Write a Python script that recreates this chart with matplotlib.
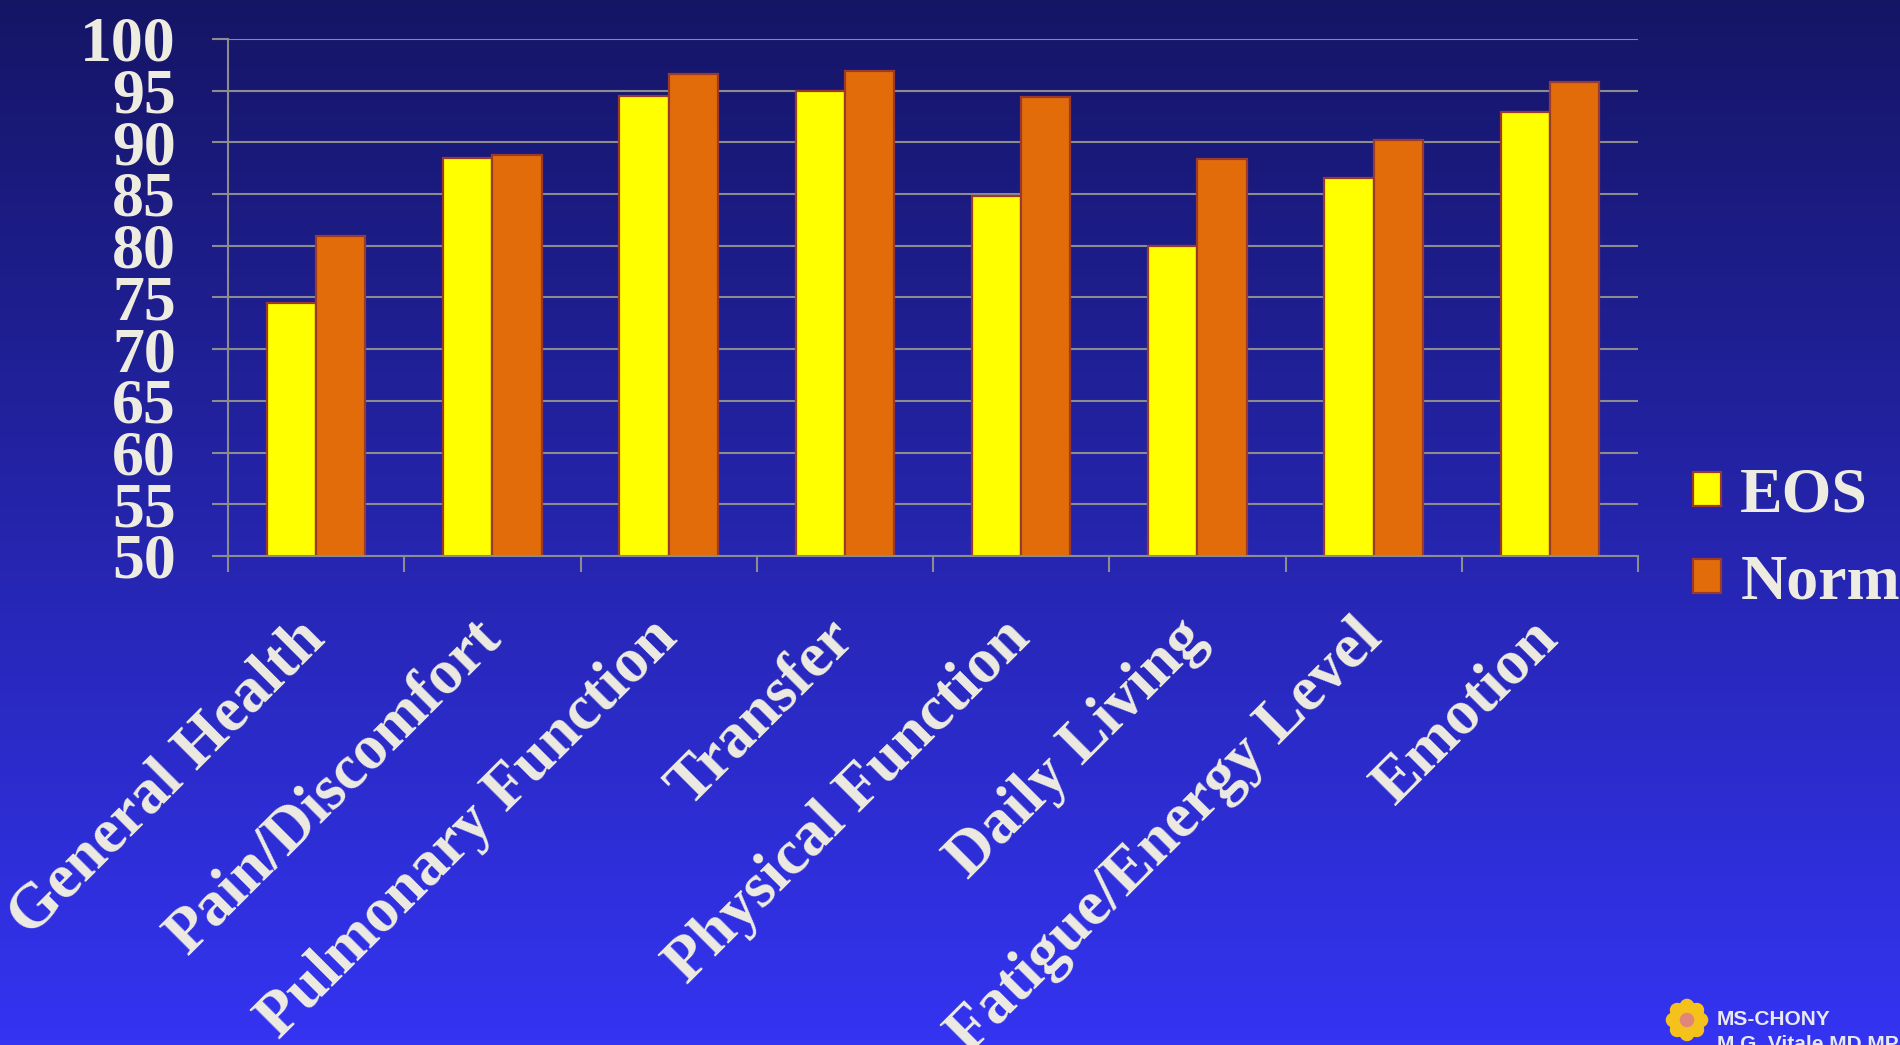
import numpy as np
import matplotlib
matplotlib.use("Agg")
import matplotlib.pyplot as plt

plt.rcParams["font.family"] = ["Liberation Serif", "DejaVu Serif"]
plt.rcParams["font.weight"] = "bold"

categories = ["General Health", "Pain/Discomfort", "Pulmonary Function", "Transfer",
              "Physical Function", "Daily Living", "Fatigue/Energy Level", "Emotion"]
eos = [74.5, 88.5, 94.5, 95.0, 84.8, 80.0, 86.5, 92.9]
norm = [80.9, 88.8, 96.6, 96.9, 94.4, 88.4, 90.2, 95.8]
yticks = list(range(50, 101, 5))

TXT = "#EEECE1"
GRID = "#8c8c8c"
EDGE = "#9a3a2c"

fig = plt.figure(figsize=(19, 10.45), dpi=100)

# background gradient (also used for the small logo, in figure fractions)
bg = fig.add_axes([0, 0, 1, 1], zorder=-10)
top = np.array([0x15, 0x15, 0x66]) / 255
bot = np.array([0x34, 0x34, 0xf2]) / 255
t = np.linspace(0, 1, 256)[:, None]
grad = (top * (1 - t) + bot * t)[:, None, :]
bg.imshow(grad, aspect="auto", extent=[0, 1, 0, 1])
bg.set_xlim(0, 1)
bg.set_ylim(0, 1)
bg.axis("off")

ax = fig.add_axes([228 / 1900, 1 - 556 / 1045, (1638 - 228) / 1900, (556 - 38.8) / 1045])
ax.set_facecolor("none")

x = np.arange(len(categories))
w = 0.28
b1 = ax.bar(x - w / 2, eos, w, color="#ffff00", edgecolor=EDGE, linewidth=1.6, label="EOS")
b2 = ax.bar(x + w / 2, norm, w, color="#e36c0a", edgecolor=EDGE, linewidth=1.6, label="Norm")

ax.set_xlim(-0.5, len(categories) - 0.5)
ax.set_ylim(50, 100)
ax.set_axisbelow(True)
ax.yaxis.grid(True, color=GRID, linewidth=1.5)

ax.set_yticks(yticks)
ax.set_yticklabels([str(v) for v in yticks], fontsize=46, color=TXT, fontweight="bold")
ax.tick_params(axis="y", length=11.5, width=1.5, color=GRID, pad=26)

ax.set_xticks(x)
ax.set_xticklabels(categories, fontsize=46, color=TXT, fontweight="bold",
                   rotation=45, ha="right", va="center", rotation_mode="anchor")
ax.set_xticks(np.arange(-0.5, len(categories)), minor=True)
ax.tick_params(axis="x", which="major", length=0, pad=53)
ax.tick_params(axis="x", which="minor", length=11.5, width=1.5, color=GRID)

for s in ["top", "right"]:
    ax.spines[s].set_visible(False)
for s in ["left", "bottom"]:
    ax.spines[s].set_color(GRID)
    ax.spines[s].set_linewidth(1.5)

leg = ax.legend(handles=[b1, b2], loc="center left", frameon=False,
                bbox_to_anchor=(1693 / 1900, 1 - 540 / 1045), bbox_transform=fig.transFigure,
                fontsize=46, handlelength=0.44, handleheight=0.44, handletextpad=0.3,
                labelspacing=0.45, borderpad=0, borderaxespad=0)
for txt in leg.get_texts():
    txt.set_color(TXT)

# logo, bottom right: small yellow flower with pink centre
cx, cy = 1687 / 1900, 1 - 1020 / 1045
ang = np.linspace(0, 2 * np.pi, 9)[:-1]
bg.scatter(cx + 14 / 1900 * np.cos(ang), cy + 14 / 1045 * np.sin(ang), s=110,
           color="#f5c21b", edgecolors="none", zorder=2)
bg.scatter([cx], [cy], s=700, color="#f5c21b", edgecolors="none", zorder=3)
bg.scatter([cx], [cy], s=110, color="#e0857a", edgecolors="none", zorder=4)
fig.text(1717 / 1900, 1 - 1025 / 1045, "MS-CHONY", fontsize=15, color="#e8e8f0",
         family="Liberation Sans", fontweight="bold")
fig.text(1717 / 1900, 1 - 1050 / 1045, "M.G. Vitale MD MPH", fontsize=15, color="#e8e8f0",
         family="Liberation Sans", fontweight="bold")

fig.savefig("out.png", dpi=100)
